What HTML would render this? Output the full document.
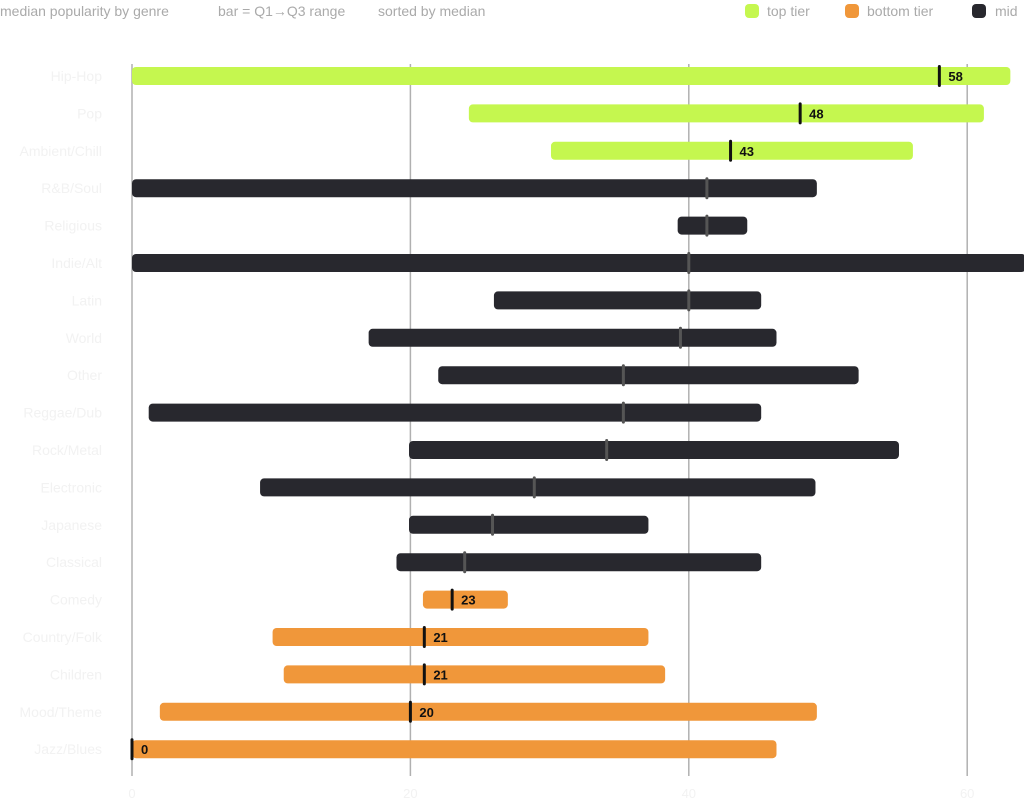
<!DOCTYPE html>
<html><head><meta charset="utf-8"><style>
body{margin:0;background:#fff;font-family:"Liberation Sans",sans-serif;}
svg text{font-family:"Liberation Sans",sans-serif;}
</style></head><body>
<svg id="chart" width="1024" height="804" xmlns="http://www.w3.org/2000/svg">
<g fill="#aaa" font-size="14">
<text x="0" y="16">median popularity by genre</text>
<text x="218" y="16">bar = Q1→Q3 range</text>
<text x="378" y="16">sorted by median</text>
</g>
<g font-size="14" fill="#aaa">
<rect x="745" y="4" width="14" height="14" rx="4" fill="#c5f74f"/>
<text x="767" y="16">top tier</text>
<rect x="845" y="4" width="14" height="14" rx="4" fill="#f0973a"/>
<text x="867" y="16">bottom tier</text>
<rect x="972" y="4" width="14" height="14" rx="4" fill="#28282e"/>
<text x="995" y="16">mid</text>
</g>
<g id="grid"></g><g id="bars"></g><g id="labels"></g>
</svg>
<script>
const genres=["Hip-Hop","Pop","Ambient/Chill","R&B/Soul","Religious","Indie/Alt","Latin","World","Other","Reggae/Dub","Rock/Metal","Electronic","Japanese","Classical","Comedy","Country/Folk","Children","Mood/Theme","Jazz/Blues"];
const q1=[0,24.2,30.1,0,39.2,0,26,17,22,1.2,19.9,9.2,19.9,19,20.9,10.1,10.9,2,0];
const q3=[63.1,61.2,56.1,49.2,44.2,64.2,45.2,46.3,52.2,45.2,55.1,49.1,37.1,45.2,27,37.1,38.3,49.2,46.3];
const medians=[58,48,43,41.3,41.3,40,40,39.4,35.3,35.3,34.1,28.9,25.9,23.9,23,21,21,20,0];
const tiers=["top","top","top","mid","mid","mid","mid","mid","mid","mid","mid","mid","mid","mid","bottom","bottom","bottom","bottom","bottom"];
const ticks=[0,20,40,60];
const NS="http://www.w3.org/2000/svg";
const x=v=>132+v*13.92;
const y=i=>76+i*37.4;
const col={top:"#c5f74f",bottom:"#f0973a",mid:"#28282e"};
function mk(t,a,p){const e=document.createElementNS(NS,t);for(const k in a)e.setAttribute(k,a[k]);p.appendChild(e);return e;}
const G=document.getElementById("grid"),B=document.getElementById("bars"),L=document.getElementById("labels");
ticks.forEach(t=>{
 const l=mk("line",{x1:x(t),x2:x(t),y1:64,y2:776,stroke:"#b0b0b0","stroke-width":1.5},G);
 
 
 const tx=mk("text",{x:x(t),y:798,"text-anchor":"middle","font-size":13,fill:"#f2f2f2"},G);
 tx.textContent=t;
 
 
});
genres.forEach((g,i)=>{
 const cy=y(i);
 const lb=mk("text",{x:102,y:cy+5,"text-anchor":"end","font-size":14,fill:"#f2f2f2"},L);
 lb.textContent=g;
 
 
 const r=mk("rect",{x:x(q1[i]),y:cy-9,width:x(q3[i])-x(q1[i]),height:18,rx:4,fill:col[tiers[i]]},B);
 
 
 const mid=tiers[i]==="mid";
 const m=mk("rect",{x:x(medians[i])-1.5,y:cy-11,width:3,height:22,rx:1.5,fill:mid?"#555":"#111"},B);
 
 
 if(!mid){
  const v=mk("text",{x:x(medians[i])+9,y:cy+5,"font-size":13,"font-weight":"bold",fill:"#111"},L);
  v.textContent=Math.round(medians[i]);
  
  
 }
});
</script>
</body></html>
